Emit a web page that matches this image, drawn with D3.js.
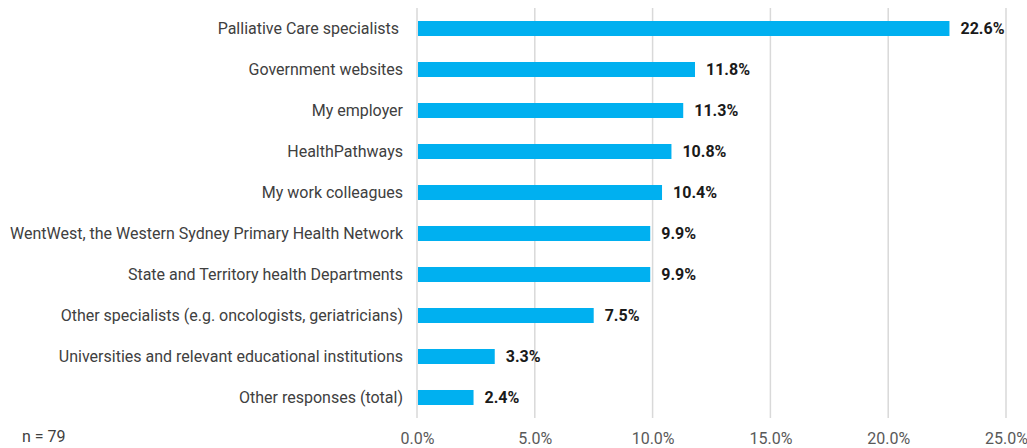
<!DOCTYPE html>
<html>
<head>
<meta charset="utf-8">
<script src="https://cdn.jsdelivr.net/npm/d3@7"></script>
<style>
  html, body { margin: 0; padding: 0; background: #fff; }
  svg { display: block; font-family: Roboto, "Noto Sans", sans-serif; }
</style>
</head>
<body>
<svg id="chart" width="1027" height="448"></svg>
<script>
// Information sources used, share of responses
const categories = [
  "Palliative Care specialists ",
  "Government websites",
  "My employer",
  "HealthPathways",
  "My work colleagues",
  "WentWest, the Western Sydney Primary Health Network",
  "State and Territory health Departments",
  "Other specialists (e.g. oncologists, geriatricians)",
  "Universities and relevant educational institutions",
  "Other responses (total)"
];
const values = [22.6, 11.8, 11.3, 10.8, 10.4, 9.9, 9.9, 7.5, 3.3, 2.4];
const tickValues = [0, 5, 10, 15, 20, 25];
const sampleNote = "n = 79";

const svg = d3.select("#chart");
const plotLeft = 417, plotRight = 1006, plotTop = 8, plotBottom = 418;
const fontSize = 16;

const x = d3.scaleLinear().domain([0, 25]).range([plotLeft, plotRight]);
const y = d3.scaleBand().domain(categories).range([plotTop, plotBottom]).paddingInner(0.634).paddingOuter(0.317);

// vertical gridlines
svg.append("g").selectAll("line").data(tickValues).join("line")
  .attr("x1", d => x(d)).attr("x2", d => x(d))
  .attr("y1", plotTop).attr("y2", plotBottom)
  .attr("stroke", "#d9d9d9").attr("stroke-width", 1.5);

// bars
svg.append("g").selectAll("rect").data(values).join("rect")
  .attr("x", x(0) + 1)
  .attr("y", (d, i) => y(categories[i]))
  .attr("width", d => x(d) - x(0) - 1)
  .attr("height", y.bandwidth())
  .attr("fill", "#00b0f0");

// value labels
svg.append("g").selectAll("text").data(values).join("text")
  .attr("x", d => x(d) + 11)
  .attr("y", (d, i) => y(categories[i]) + y.bandwidth() / 2)
  .attr("dy", "0.36em")
  .attr("font-size", fontSize).attr("font-weight", "bold").attr("fill", "#1a1a1a")
  .text(d => d.toFixed(1) + "%");

// category labels
svg.append("g").selectAll("text").data(categories).join("text")
  .attr("x", plotLeft - 14)
  .attr("y", d => y(d) + y.bandwidth() / 2)
  .attr("dy", "0.36em")
  .attr("text-anchor", "end")
  .attr("font-size", fontSize).attr("fill", "#404040")
  .style("white-space", "pre")
  .text(d => d);

// x axis tick labels
const axis = d3.axisBottom(x).tickValues(tickValues).tickSize(0).tickPadding(0)
  .tickFormat(d => d.toFixed(1) + "%");
const gx = svg.append("g").attr("transform", `translate(0, ${plotBottom + 15})`).call(axis);
gx.select(".domain").remove();
gx.selectAll("text").attr("font-size", fontSize).attr("fill", "#595959")
  .attr("font-family", "Roboto, 'Noto Sans', sans-serif");

// sample size note
svg.append("text").attr("x", 22).attr("y", 442)
  .attr("font-size", fontSize).attr("fill", "#404040").text(sampleNote);
</script>
</body>
</html>
